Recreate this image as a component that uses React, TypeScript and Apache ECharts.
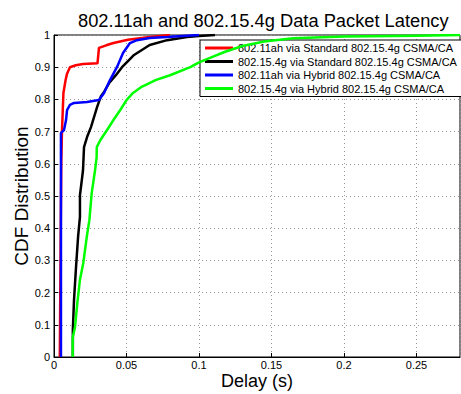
import React, { useEffect, useRef } from "react";
import * as echarts from "echarts";

const titleText = "802.11ah and 802.15.4g Data Packet Latency";
const xAxisName = "Delay (s)";
const yAxisName = "CDF Distribution";
const seriesNames = [
  "802.11ah via Standard 802.15.4g CSMA/CA",
  "802.15.4g via Standard 802.15.4g CSMA/CA",
  "802.11ah via Hybrid 802.15.4g CSMA/CA",
  "802.15.4g via Hybrid 802.15.4g CSMA/CA",
];
const seriesColors = ["#ff0000", "#000000", "#0000ff", "#00ff00"];

const redDelay = [0.004, 0.0045, 0.005, 0.0055, 0.006, 0.0065, 0.008, 0.009, 0.011, 0.015, 0.02, 0.03, 0.031, 0.036, 0.041, 0.051, 0.066, 0.08];
const redCdf = [0, 0.3, 0.6, 0.7, 0.76, 0.82, 0.86, 0.88, 0.9, 0.906, 0.91, 0.912, 0.96, 0.968, 0.975, 0.985, 0.994, 1];

const blackDelay = [0.013, 0.013, 0.0138, 0.0152, 0.0166, 0.0179, 0.0179, 0.0186, 0.02, 0.0207, 0.0228, 0.0255, 0.0276, 0.0297, 0.0324, 0.0345, 0.0379, 0.0428, 0.0469, 0.0517, 0.0552, 0.066, 0.078, 0.0917, 0.1, 0.111];
const blackCdf = [0, 0.084, 0.177, 0.28, 0.373, 0.435, 0.503, 0.528, 0.58, 0.652, 0.683, 0.714, 0.745, 0.776, 0.81, 0.823, 0.85, 0.876, 0.9, 0.922, 0.938, 0.969, 0.984, 0.994, 0.997, 1];

const blueDelay = [0.0048, 0.0048, 0.0069, 0.0083, 0.009, 0.011, 0.0138, 0.0228, 0.031, 0.0345, 0.0386, 0.0434, 0.0476, 0.0524, 0.0572, 0.066, 0.078, 0.1];
const blueCdf = [0, 0.696, 0.705, 0.736, 0.767, 0.783, 0.789, 0.792, 0.798, 0.82, 0.86, 0.9, 0.944, 0.975, 0.984, 0.991, 0.994, 1];

const greenDelay = [0.0129, 0.0129, 0.0145, 0.0161, 0.0179, 0.0202, 0.0226, 0.0244, 0.026, 0.0283, 0.0294, 0.0295, 0.032, 0.0366, 0.041, 0.0457, 0.05, 0.0545, 0.06, 0.0641, 0.07, 0.08, 0.094, 0.1, 0.108, 0.118, 0.13, 0.145, 0.165, 0.2, 0.25, 0.28];
const greenCdf = [0, 0.06, 0.093, 0.168, 0.24, 0.292, 0.373, 0.425, 0.509, 0.58, 0.62, 0.652, 0.674, 0.705, 0.736, 0.767, 0.798, 0.82, 0.838, 0.847, 0.86, 0.875, 0.9, 0.915, 0.93, 0.948, 0.966, 0.98, 0.99, 0.995, 0.998, 1];

const allDelays = [redDelay, blackDelay, blueDelay, greenDelay];
const allCdfs = [redCdf, blackCdf, blueCdf, greenCdf];

const FONT = "'Liberation Sans', Arial, Helvetica, sans-serif";

export default function App() {
  const ref = useRef<HTMLDivElement>(null);
  useEffect(() => {
    if (!ref.current) return;
    const chart = echarts.init(ref.current, null, { renderer: "svg" });
    const series = seriesNames.map((name, i) => ({
      name,
      type: "line",
      showSymbol: false,
      symbol: "none",
      data: allDelays[i].map((d, j) => [d, allCdfs[i][j]]),
      lineStyle: { color: seriesColors[i], width: 2.5 },
      itemStyle: { color: seriesColors[i] },
      z: 2 + i,
    }));
    chart.setOption({
      animation: false,
      backgroundColor: "#ffffff",
      title: {
        text: titleText,
        left: 73,
        top: 6,
        textStyle: { fontFamily: FONT, fontSize: 18.3, fontWeight: "normal", color: "#000" },
      },
      legend: {
        data: seriesNames,
        orient: "vertical",
        left: 200,
        top: 40,
        icon: "rect",
        itemWidth: 28,
        itemHeight: 3,
        itemGap: 1.5,
        padding: [2, 5],
        backgroundColor: "#ffffff",
        borderColor: "#000000",
        borderWidth: 1,
        textStyle: { fontFamily: FONT, fontSize: 11, color: "#000", lineHeight: 12 },
      },
      grid: {
        left: 54,
        right: 1,
        top: 35,
        bottom: 37,
        show: true,
        borderColor: "#000",
        borderWidth: 1,
        containLabel: false,
        outerBoundsMode: "none",
      },
      xAxis: {
        type: "value",
        min: 0,
        max: 0.28,
        interval: 0.05,
        name: xAxisName,
        nameLocation: "middle",
        nameGap: 16,
        nameMoveOverlap: false,
        nameTextStyle: { fontFamily: FONT, fontSize: 18, color: "#000", lineHeight: 16 },
        axisLine: { show: true, lineStyle: { color: "#000", width: 1 } },
        axisTick: { show: true, inside: true, length: 4, lineStyle: { color: "#000" } },
        axisLabel: { fontFamily: FONT, fontSize: 11, color: "#000", margin: 2, lineHeight: 11, showMaxLabel: false },
        splitLine: { show: true, lineStyle: { color: "#999", type: [1, 3], width: 1 } },
      },
      yAxis: {
        type: "value",
        min: 0,
        max: 1,
        interval: 0.1,
        name: yAxisName,
        nameLocation: "middle",
        nameGap: 23,
        nameMoveOverlap: false,
        nameTextStyle: { fontFamily: FONT, fontSize: 19, color: "#000" },
        axisLine: { show: true, lineStyle: { color: "#000", width: 1 } },
        axisTick: { show: true, inside: true, length: 4, lineStyle: { color: "#000" } },
        axisLabel: { fontFamily: FONT, fontSize: 11, color: "#000", margin: 4 },
        splitLine: { show: true, lineStyle: { color: "#999", type: [1, 3], width: 1 } },
      },
      series,
    });
    return () => chart.dispose();
  }, []);
  return (
    <div
      ref={ref}
      style={{ position: "fixed", left: 0, top: 0, width: 461, height: 394, background: "#fff" }}
    />
  );
}
